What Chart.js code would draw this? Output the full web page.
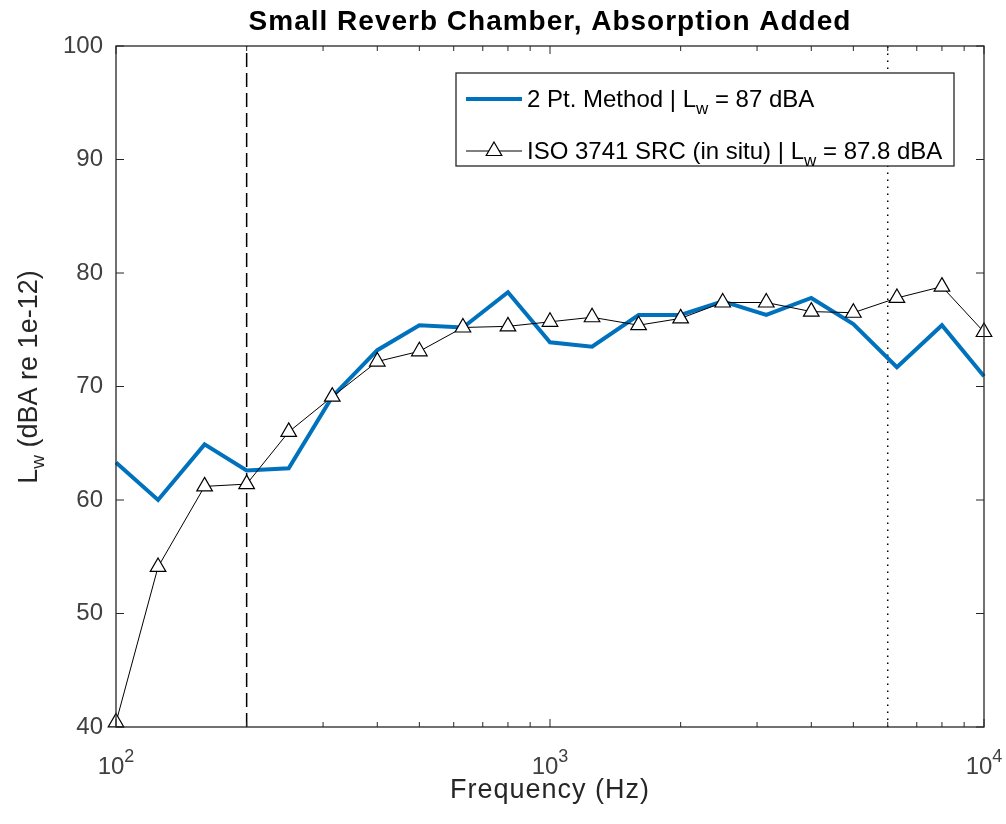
<!DOCTYPE html>
<html>
<head>
<meta charset="utf-8">
<script src="https://cdn.jsdelivr.net/npm/chart.js@4/dist/chart.umd.min.js"></script>
<style>
  html, body { margin: 0; padding: 0; background: #fff; }
</style>
</head>
<body>
<canvas id="chart" width="1006" height="824"></canvas>
<script>
// 1/3 octave band centre frequencies (Hz)
const freqs = [100, 125, 160, 200, 250, 315, 400, 500, 630, 800, 1000,
               1250, 1600, 2000, 2500, 3150, 4000, 5000, 6300, 8000, 10000];
// Lw per band
const twoPt = [63.3, 60.0, 64.9, 62.6, 62.8, 69.1, 73.2, 75.4, 75.2, 78.3, 73.9,
               73.5, 76.3, 76.3, 77.5, 76.3, 77.8, 75.5, 71.7, 75.4, 70.9];
const iso   = [40.4, 54.1, 61.2, 61.4, 66.0, 69.1, 72.2, 73.1, 75.2, 75.3, 75.7,
               76.1, 75.4, 76.0, 77.4, 77.4, 76.6, 76.5, 77.8, 78.8, 74.8];
const lowLimit = 200;   // dashed
const highLimit = 6000; // dotted
const yRange = [40, 100];
const xRange = [100, 10000];
const xMajor = [100, 1000, 10000];
const xMinor = [200, 300, 400, 500, 600, 700, 800, 900, 2000, 3000, 4000, 5000, 6000, 7000, 8000, 9000];
const title = 'Small Reverb Chamber, Absorption Added';
const legendRows = [
  { pre: '2 Pt. Method | L', sub: 'w', post: ' = 87 dBA' },
  { pre: 'ISO 3741 SRC (in situ) | L', sub: 'w', post: ' = 87.8 dBA' },
];

const FONT = "'Liberation Sans', Arial, Helvetica, sans-serif";
const AX = '#262626';
const BLUE = '#0072BD';
const MARK_R = 9;

const pts = vals => freqs.map((f, i) => ({ x: f, y: vals[i] }));
const vline = f => [{ x: f, y: yRange[0] }, { x: f, y: yRange[1] }];

// draw a run of text pieces (with sub/superscripts) starting at x
function drawRuns(ctx, runs, x, y, align) {
  let total = 0;
  runs.forEach(r => { ctx.font = r.font; total += ctx.measureText(r.t).width; });
  let cx = align === 'center' ? x - total / 2 : x;
  runs.forEach(r => {
    ctx.font = r.font;
    ctx.fillText(r.t, cx, y + (r.dy || 0));
    cx += ctx.measureText(r.t).width;
  });
}

const decor = {
  id: 'decor',
  afterDatasetsDraw(chart) {
    const { ctx, chartArea: a, scales: { x, y } } = chart;
    ctx.save();

    // axes box + inward ticks
    ctx.strokeStyle = AX;
    ctx.lineWidth = 1.3;
    ctx.strokeRect(a.left, a.top, a.right - a.left, a.bottom - a.top);
    ctx.lineWidth = 1;
    ctx.beginPath();
    for (let v = yRange[0]; v <= yRange[1]; v += 10) {
      const py = y.getPixelForValue(v);
      ctx.moveTo(a.left, py); ctx.lineTo(a.left + 8, py);
      ctx.moveTo(a.right, py); ctx.lineTo(a.right - 8, py);
    }
    xMajor.forEach(f => {
      const px = x.getPixelForValue(f);
      ctx.moveTo(px, a.bottom); ctx.lineTo(px, a.bottom - 8);
      ctx.moveTo(px, a.top); ctx.lineTo(px, a.top + 8);
    });
    xMinor.forEach(f => {
      const px = x.getPixelForValue(f);
      ctx.moveTo(px, a.bottom); ctx.lineTo(px, a.bottom - 5);
      ctx.moveTo(px, a.top); ctx.lineTo(px, a.top + 5);
    });
    ctx.stroke();

    // x tick labels 10^n
    ctx.fillStyle = '#404040';
    ctx.textBaseline = 'alphabetic';
    xMajor.forEach(f => {
      const px = x.getPixelForValue(f);
      drawRuns(ctx, [
        { t: '10', font: `24px ${FONT}` },
        { t: String(Math.round(Math.log10(f))), font: `18px ${FONT}`, dy: -12 },
      ], px, 774, 'center');
    });

    // title
    ctx.fillStyle = '#000';
    ctx.textAlign = 'center';
    ctx.font = `bold 28px ${FONT}`;
    ctx.letterSpacing = '1px';
    ctx.fillText(title, (a.left + a.right) / 2, 30);

    // x label
    ctx.fillStyle = AX;
    ctx.font = `27px ${FONT}`;
    ctx.fillText('Frequency (Hz)', (a.left + a.right) / 2, 798);
    ctx.letterSpacing = '0px';

    // y label (rotated)
    ctx.save();
    ctx.translate(37, 377);
    ctx.rotate(-Math.PI / 2);
    ctx.textAlign = 'left';
    drawRuns(ctx, [
      { t: 'L', font: `27px ${FONT}` },
      { t: 'w', font: `19px ${FONT}`, dy: 7 },
      { t: ' (dBA re 1e-12)', font: `27px ${FONT}` },
    ], 0, 0, 'center');
    ctx.restore();

    // legend
    const lx = 456, ly = 73, lw = 498, lh = 93;
    ctx.fillStyle = '#fff';
    ctx.fillRect(lx, ly, lw, lh);
    ctx.strokeStyle = AX;
    ctx.lineWidth = 1.3;
    ctx.strokeRect(lx, ly, lw, lh);
    const rowY = [99, 151];
    ctx.beginPath();
    ctx.strokeStyle = BLUE; ctx.lineWidth = 4;
    ctx.moveTo(466, rowY[0]); ctx.lineTo(522, rowY[0]);
    ctx.stroke();
    ctx.beginPath();
    ctx.strokeStyle = '#000'; ctx.lineWidth = 1;
    ctx.moveTo(466, rowY[1]); ctx.lineTo(522, rowY[1]);
    ctx.stroke();
    // triangle marker in legend
    const r = MARK_R, cx = 494, cy = rowY[1];
    ctx.beginPath();
    ctx.moveTo(cx, cy - r);
    ctx.lineTo(cx + r * Math.sin(2 * Math.PI / 3), cy - r * Math.cos(2 * Math.PI / 3));
    ctx.lineTo(cx + r * Math.sin(4 * Math.PI / 3), cy - r * Math.cos(4 * Math.PI / 3));
    ctx.closePath();
    ctx.lineWidth = 1.2;
    ctx.fillStyle = '#fff'; ctx.fill(); ctx.stroke();

    ctx.fillStyle = '#000';
    ctx.textAlign = 'left';
    legendRows.forEach((row, i) => {
      drawRuns(ctx, [
        { t: row.pre, font: `24px ${FONT}` },
        { t: row.sub, font: `17px ${FONT}`, dy: 7 },
        { t: row.post, font: `24px ${FONT}` },
      ], 527, rowY[i] + 8, 'left');
    });

    ctx.restore();
  }
};

new Chart(document.getElementById('chart'), {
  type: 'line',
  data: {
    datasets: [
      {
        label: legendRows[1].pre,
        data: pts(iso),
        borderColor: '#000',
        borderWidth: 1,
        pointStyle: 'triangle',
        pointRadius: MARK_R,
        pointBackgroundColor: '#fff',
        pointBorderColor: '#000',
        pointBorderWidth: 1.2,
        tension: 0,
        clip: false,
        order: 0,
      },
      {
        label: legendRows[0].pre,
        data: pts(twoPt),
        borderColor: BLUE,
        borderWidth: 4,
        pointRadius: 0,
        tension: 0,
        clip: false,
        order: 1,
      },
      {
        label: 'low',
        data: vline(lowLimit),
        borderColor: '#000',
        borderWidth: 1.5,
        borderDash: [14, 6],
        pointRadius: 0,
        order: 2,
      },
      {
        label: 'high',
        data: vline(highLimit),
        borderColor: '#000',
        borderWidth: 1.5,
        borderDash: [1.5, 5.5],
        pointRadius: 0,
        order: 3,
      },
    ],
  },
  options: {
    responsive: false,
    animation: false,
    devicePixelRatio: 1,
    layout: { padding: { left: 0, top: 46, right: 22, bottom: 0 } },
    plugins: {
      legend: { display: false },
      tooltip: { enabled: false },
      title: { display: false },
    },
    scales: {
      x: {
        type: 'logarithmic',
        min: xRange[0],
        max: xRange[1],
        grid: { display: false, drawTicks: false },
        border: { display: false },
        ticks: { display: false },
        afterFit: s => { s.height = 97; },
      },
      y: {
        type: 'linear',
        min: yRange[0],
        max: yRange[1],
        grid: { display: false, drawTicks: false },
        border: { display: false },
        ticks: {
          stepSize: 10,
          padding: 13,
          color: '#404040',
          font: { family: FONT, size: 24 },
        },
        afterFit: s => { s.width = 116; },
      },
    },
  },
  plugins: [decor],
});
</script>
</body>
</html>
